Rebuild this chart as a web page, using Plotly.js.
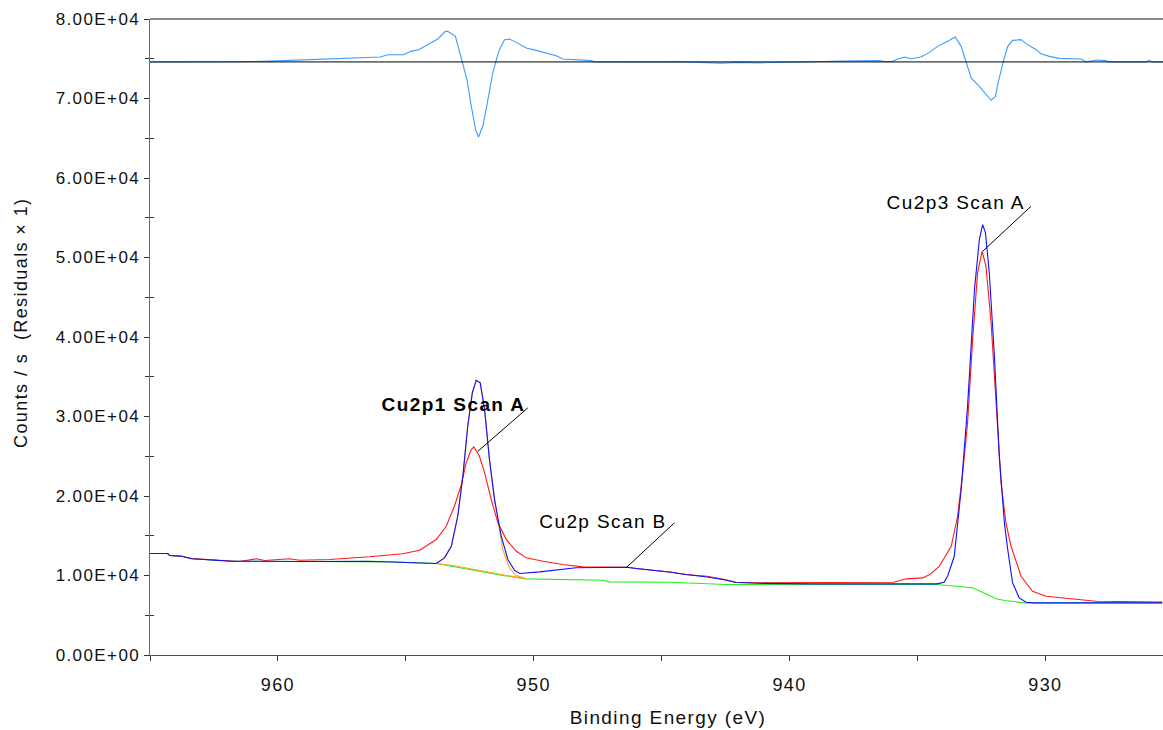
<!DOCTYPE html>
<html>
<head>
<meta charset="utf-8">
<script src="https://cdn.plot.ly/plotly-3.0.1.min.js"></script>
<style>
  html, body { margin: 0; padding: 0; background: #fff; }
  #chart { width: 1163px; height: 730px; }
  .main-svg text { letter-spacing: 1.4px; }
</style>
</head>
<body>
<div id="chart"></div>
<script>
// ---------- data (binding energy in eV, counts / s) ----------
const energyRange = [965.0, 925.4];

const redEnergy = [965.0, 964.31, 964.23, 963.76, 963.37, 962.79, 961.81, 961.50, 960.84, 960.52, 959.54, 959.15, 957.98, 956.42, 955.12, 954.46, 953.81, 953.42, 953.10, 952.83, 952.64, 952.44, 952.34, 952.12, 951.92, 951.66, 951.40, 951.07, 950.68, 950.29, 949.64, 948.86, 948.08, 947.30, 946.38, 945.89, 945.18, 944.62, 944.06, 943.22, 942.52, 942.10, 941.25, 938.87, 937.33, 935.92, 935.44, 934.79, 934.52, 934.14, 933.68, 933.43, 933.23, 933.04, 932.84, 932.65, 932.47, 932.32, 932.12, 931.93, 931.73, 931.54, 931.34, 930.95, 930.50, 929.97, 929.06, 928.02, 927.08, 926.07, 925.43];
const redCounts = [12760, 12760, 12510, 12420, 12140, 12010, 11800, 11760, 12100, 11880, 12100, 11920, 12010, 12350, 12730, 13180, 14520, 16200, 18710, 21440, 24170, 25840, 26180, 25000, 22910, 19550, 16620, 14520, 13050, 12220, 11800, 11380, 11090, 11090, 11040, 10840, 10630, 10410, 10120, 9910, 9490, 9160, 9080, 9080, 9160, 9160, 9580, 9700, 10120, 11170, 13680, 17450, 22910, 29200, 39670, 48060, 50780, 48890, 41770, 31290, 21650, 16620, 13680, 9910, 8020, 7390, 7070, 6770, 6730, 6690, 6670];

const blueEnergy = [965.0, 964.31, 964.23, 963.76, 963.37, 962.79, 961.81, 959.15, 956.42, 953.81, 953.49, 953.22, 952.97, 952.77, 952.58, 952.40, 952.25, 952.09, 951.92, 951.73, 951.53, 951.27, 951.01, 950.75, 950.55, 949.77, 949.12, 948.34, 947.30, 946.38, 945.89, 945.18, 944.62, 944.06, 943.22, 942.52, 942.10, 941.25, 939.01, 934.24, 933.96, 933.82, 933.56, 933.29, 933.04, 932.77, 932.58, 932.45, 932.34, 932.19, 931.99, 931.80, 931.60, 931.47, 931.28, 931.02, 930.75, 930.45, 925.43];
const blueCounts = [12760, 12760, 12510, 12420, 12100, 12010, 11800, 11760, 11800, 11510, 12220, 13680, 17450, 22480, 28770, 32970, 34560, 34230, 30870, 24580, 19550, 14940, 12010, 10660, 10250, 10460, 10660, 10970, 11000, 11040, 10840, 10630, 10410, 10120, 9810, 9430, 9120, 9020, 8950, 8950, 9160, 9910, 12420, 20810, 31290, 45960, 52250, 54140, 53090, 48060, 37570, 25000, 16620, 13270, 9080, 7190, 6640, 6560, 6560];

const greenEnergy = [965.0, 964.31, 964.23, 963.76, 963.37, 962.79, 961.81, 959.15, 956.42, 955.64, 953.81, 953.16, 952.12, 951.21, 950.29, 947.30, 947.04, 944.69, 942.45, 934.24, 933.68, 932.84, 932.27, 931.93, 931.58, 930.80, 925.43];
const greenCounts = [12760, 12760, 12510, 12420, 12100, 12010, 11800, 11760, 11800, 11720, 11510, 11170, 10540, 10000, 9580, 9410, 9200, 9150, 8870, 8870, 8740, 8450, 7610, 7070, 6850, 6560, 6560];

// Cu2p1 component outline (peak on top, its background underneath)
const orangeEnergy = [953.81, 953.49, 953.22, 952.97, 952.77, 952.58, 952.40, 952.25, 952.09, 951.92, 951.73, 951.53, 951.21, 950.95, 950.68, 950.29, 951.21, 952.12, 953.16, 953.81];
const orangeCounts = [11510, 12220, 13680, 17450, 22480, 28770, 32970, 34560, 34230, 30870, 24580, 19550, 13270, 10970, 10000, 9580, 10100, 10650, 11250, 11510];

const residualBaseline = 74600;
const residualEnergy = [965.0, 963.0, 961.5, 960.3, 959.2, 957.6, 956.0, 955.7, 955.1, 954.8, 954.5, 954.1, 953.75, 953.45, 953.36, 953.06, 952.90, 952.79, 952.61, 952.44, 952.27, 952.16, 951.99, 951.79, 951.60, 951.44, 951.34, 951.14, 950.95, 950.68, 950.29, 949.90, 949.51, 949.12, 948.86, 948.34, 947.75, 947.62, 945.9, 944.3, 942.7, 941.9, 941.2, 940.0, 939.0, 938.0, 937.0, 936.5, 936.23, 935.97, 935.77, 935.51, 935.25, 934.86, 934.53, 934.21, 933.82, 933.52, 933.29, 933.10, 932.90, 932.58, 932.32, 932.12, 931.95, 931.85, 931.64, 931.47, 931.28, 930.95, 930.75, 930.36, 930.17, 929.84, 929.45, 928.60, 928.41, 928.02, 927.63, 927.50, 926.07, 925.94, 925.81, 925.4];
const residualCounts = [74600, 74600, 74620, 74700, 74850, 75000, 75220, 75510, 75510, 75930, 76140, 76860, 77490, 78440, 78440, 77810, 75930, 74550, 72370, 69010, 66080, 65160, 66500, 69850, 73210, 75100, 76140, 77400, 77490, 77060, 76360, 76050, 75730, 75390, 74970, 74850, 74760, 74600, 74600, 74620, 74450, 74550, 74480, 74600, 74620, 74700, 74760, 74760, 74630, 74670, 74970, 75220, 75010, 75220, 75800, 76560, 77190, 77740, 76560, 74470, 72580, 71530, 70480, 69770, 70270, 71950, 74670, 76560, 77310, 77400, 76900, 76140, 75640, 75300, 75050, 74970, 74600, 74850, 74760, 74600, 74600, 74800, 74600, 74600];

const xTickValues = [960, 950, 940, 930];
const xTickLabels = ['960', '950', '940', '930'];
const xMinorTicks = [965, 955, 945, 935, 925];
const yTickValues = [0, 10000, 20000, 30000, 40000, 50000, 60000, 70000, 80000];
const yTickLabels = ['0.00E+00', '1.00E+04', '2.00E+04', '3.00E+04', '4.00E+04', '5.00E+04', '6.00E+04', '7.00E+04', '8.00E+04'];
const yMinorTicks = [5000, 15000, 25000, 35000, 45000, 55000, 65000, 75000];

const peakLabels = ['Cu2p3 Scan A', 'Cu2p1 Scan A', 'Cu2p Scan B'];
const xTitle = 'Binding Energy (eV)';
const yTitle = 'Counts / s \u00a0(Residuals \u00d7 1)';

// ---------- traces ----------
const line = (color, w) => ({ color: color, width: w || 1.1 });
const traces = [
  { x: greenEnergy, y: greenCounts, type: 'scatter', mode: 'lines', line: line('#22ee22'), hoverinfo: 'skip' },
  { x: orangeEnergy, y: orangeCounts, type: 'scatter', mode: 'lines', line: line('#ffa020'), hoverinfo: 'skip' },
  { x: redEnergy, y: redCounts, type: 'scatter', mode: 'lines', line: line('#ff1a1a'), hoverinfo: 'skip' },
  { x: blueEnergy, y: blueCounts, type: 'scatter', mode: 'lines', line: line('#1010ff'), hoverinfo: 'skip' },
  { x: energyRange, y: [residualBaseline, residualBaseline], type: 'scatter', mode: 'lines', line: line('#000000', 1), yaxis: 'y2', hoverinfo: 'skip' },
  { x: residualEnergy, y: residualCounts, type: 'scatter', mode: 'lines', line: line('#3a9cff'), hoverinfo: 'skip' }
];

const font = 'Liberation Sans, Arial, sans-serif';
const layout = {
  width: 1163, height: 730,
  margin: { l: 150, r: 0, t: 19, b: 75 },
  paper_bgcolor: '#ffffff', plot_bgcolor: '#ffffff',
  showlegend: false,
  font: { family: font, color: '#111111' },
  xaxis: {
    range: energyRange, autorange: false,
    tickmode: 'array', tickvals: xTickValues, ticktext: xTickLabels,
    ticks: 'outside', ticklen: 5, tickcolor: '#333333', tickwidth: 1,
    ticklabelstandoff: 8,
    tickfont: { family: font, size: 18, color: '#111111' },
    minor: { tickmode: 'array', tickvals: xMinorTicks, ticks: 'outside', ticklen: 5, tickcolor: '#333333', showgrid: false },
    showline: true, linecolor: '#505050', linewidth: 1,
    showgrid: false, zeroline: false
  },
  yaxis: {
    range: [0, 80000], autorange: false,
    tickmode: 'array', tickvals: yTickValues, ticktext: yTickLabels,
    ticks: 'outside', ticklen: 5, tickcolor: '#333333', tickwidth: 1,
    ticklabelstandoff: 0,
    tickfont: { family: font, size: 17, color: '#111111' },
    minor: { tickmode: 'array', tickvals: yMinorTicks, ticks: 'inside', ticklen: 4, tickcolor: '#333333', showgrid: false },
    showline: true, linecolor: '#6a6a6a', linewidth: 1.5,
    showgrid: false, zeroline: false
  },
  yaxis2: {
    overlaying: 'y', side: 'left', anchor: 'x',
    range: [0, 80000], autorange: false,
    tickmode: 'array', tickvals: yMinorTicks,
    ticks: 'outside', ticklen: 4, tickcolor: '#333333',
    showticklabels: false, showline: false, showgrid: false, zeroline: false
  },
  shapes: [
    { type: 'line', xref: 'paper', yref: 'paper', x0: 0, x1: 1, y0: 1, y1: 1, line: { color: '#8a8a8a', width: 2 } },
    { type: 'line', xref: 'x', yref: 'y', x0: 930.56, y0: 56440, x1: 932.45, y1: 50780, line: { color: '#000000', width: 1 } },
    { type: 'line', xref: 'x', yref: 'y', x0: 950.23, y0: 31090, x1: 952.18, y1: 25630, line: { color: '#000000', width: 1 } },
    { type: 'line', xref: 'x', yref: 'y', x0: 944.50, y0: 16620, x1: 946.39, y1: 10970, line: { color: '#000000', width: 1 } }
  ],
  annotations: [
    { text: peakLabels[0], xref: 'x', yref: 'y', x: 935.95, y: 56900, xanchor: 'left', yanchor: 'middle', showarrow: false, font: { family: font, size: 19, color: '#000000' } },
    { text: '<b>' + peakLabels[1] + '</b>', xref: 'x', yref: 'y', x: 955.70, y: 31500, xanchor: 'left', yanchor: 'middle', showarrow: false, font: { family: font, size: 19, color: '#000000' } },
    { text: peakLabels[2], xref: 'x', yref: 'y', x: 949.55, y: 16850, xanchor: 'left', yanchor: 'middle', showarrow: false, font: { family: font, size: 19, color: '#000000' } },
    { text: xTitle, xref: 'paper', yref: 'paper', x: 0.5114, y: -0.099, xanchor: 'center', yanchor: 'middle', showarrow: false, font: { family: font, size: 19, color: '#111111' } },
    { text: yTitle, xref: 'paper', yref: 'paper', x: -0.1273, y: 0.522, xanchor: 'center', yanchor: 'middle', textangle: -90, showarrow: false, font: { family: font, size: 18, color: '#111111' } }
  ]
};

Plotly.newPlot('chart', traces, layout, { staticPlot: true, displayModeBar: false });
</script>
</body>
</html>
